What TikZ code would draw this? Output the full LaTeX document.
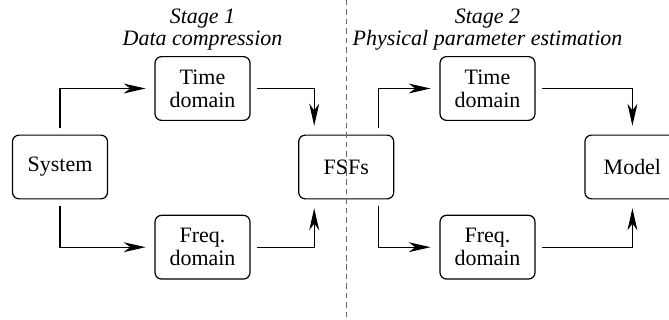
\documentclass[tikz,border=0pt]{standalone}
\usepackage{fontspec}
\setmainfont{Liberation Serif}
\usepackage{tikz}
\usetikzlibrary{arrows.meta, positioning}

\begin{document}
\begin{tikzpicture}[
    font=\fontsize{10}{10.5}\selectfont,
    box/.style={rectangle, rounded corners=3pt, draw=black, line width=0.55pt, minimum width=1.52cm, minimum height=1.02cm, align=center, text=black},
    arrow/.style={-{Stealth[length=10pt, width=4.5pt, inset=3pt]}, line width=0.55pt, shorten <=0.1cm, shorten >=0.14cm},
    stagelabel/.style={font=\fontsize{10}{10}\selectfont\itshape, align=center, text=black},
    divider/.style={dashed, dash pattern=on 2.5pt off 1.8pt, line width=0.5pt, black!60}
]

\useasboundingbox (0,0) rectangle (10.704,-5.12);
\clip (0,0) rectangle (10.704,-5.12);

% Main row
\node[box] (system) at (0.96,-2.672) {System};
\node[box, right=3.04cm of system] (fsfs) {FSFs};
\node[box, right=3.04cm of fsfs] (model) {Model};

% Stage 1
\node[box] (time1) at (3.24,-1.416) {Time\\domain};
\node[box, below=1.5cm of time1] (freq1) {Freq.\\domain};

% Stage 2
\node[box] (time2) at (7.8,-1.416) {Time\\domain};
\node[box, below=1.5cm of time2] (freq2) {Freq.\\domain};

% Labels
\node[stagelabel] (stage1) at (3.24,-0.47) {Stage 1\\Data compression};
\node[stagelabel] (stage2) at (7.8,-0.47) {Stage 2\\Physical parameter estimation};

% Arrows - stage 1
\draw[arrow] (system.north) |- (time1.west);
\draw[arrow] (system.south) |- (freq1.west);
\draw[arrow] (time1.east) -| ([xshift=-0.512cm]fsfs.north);
\draw[arrow] (freq1.east) -| ([xshift=-0.512cm]fsfs.south);

% Arrows - stage 2
\draw[arrow] ([xshift=0.512cm]fsfs.north) |- (time2.west);
\draw[arrow] ([xshift=0.512cm]fsfs.south) |- (freq2.west);
\draw[arrow] (time2.east) -| (model.north);
\draw[arrow] (freq2.east) -| (model.south);

% Stage divider
\coordinate (divtop) at (fsfs |- 0,0);
\coordinate (divbottom) at (fsfs |- 0,-5.12);
\draw[divider] (divtop) -- (divbottom);

\end{tikzpicture}
\end{document}
